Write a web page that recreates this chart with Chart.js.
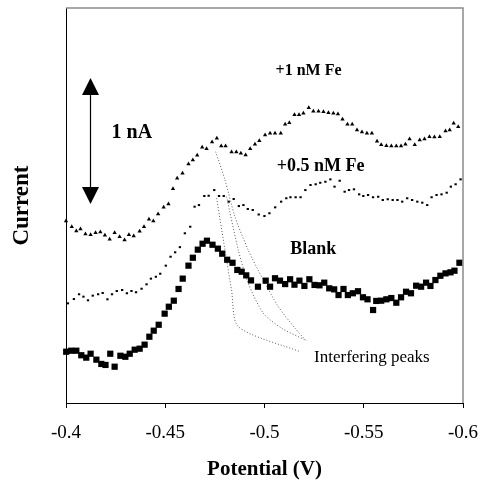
<!DOCTYPE html>
<html><head><meta charset="utf-8">
<script src="https://cdn.jsdelivr.net/npm/chart.js@4.4.1/dist/chart.umd.min.js"></script>
<style>html,body{margin:0;padding:0;background:#fff;}#wrap{width:484px;height:481px;}</style>
</head><body><div id="wrap"><canvas id="c" width="484" height="481"></canvas></div>
<script>
const SERIF = "'Liberation Serif','Times New Roman',serif";

// x axis tick values (potential, V)
const xTicks = [-0.4, -0.45, -0.5, -0.55, -0.6];

// +1 nM Fe (triangles)
const fe1X = [-0.4000,-0.4029,-0.4052,-0.4073,-0.4098,-0.4124,-0.4149,-0.4173,-0.4196,-0.4220,
-0.4245,-0.4270,-0.4295,-0.4317,-0.4341,-0.4371,-0.4393,-0.4418,-0.4440,-0.4464,
-0.4492,-0.4516,-0.4539,-0.4560,-0.4587,-0.4617,-0.4639,-0.4661,-0.4686,-0.4708,
-0.4736,-0.4760,-0.4782,-0.4804,-0.4834,-0.4858,-0.4881,-0.4905,-0.4928,-0.4952,-0.4974,
-0.5003,-0.5028,-0.5053,-0.5082,-0.5104,-0.5125,-0.5151,-0.5174,-0.5196,-0.5223,
-0.5246,-0.5272,-0.5297,-0.5322,-0.5347,-0.5370,-0.5393,-0.5418,-0.5442,-0.5466,
-0.5491,-0.5516,-0.5541,-0.5567,-0.5588,-0.5614,-0.5639,-0.5664,-0.5688,-0.5710,
-0.5731,-0.5757,-0.5782,-0.5806,-0.5831,-0.5856,-0.5883,-0.5912,-0.5933,-0.5953,-0.5976];
const fe1Y = [1.444,1.399,1.365,1.381,1.341,1.336,1.352,1.357,1.331,1.299,
1.352,1.320,1.294,1.336,1.325,1.363,1.399,1.458,1.444,1.500,
1.553,1.579,1.701,1.783,1.823,1.897,1.929,1.966,2.029,2.018,
2.071,2.101,2.040,2.040,1.992,1.992,1.982,1.968,2.018,2.053,2.082,
2.127,2.140,2.140,2.140,2.212,2.225,2.288,2.288,2.299,2.344,
2.315,2.315,2.312,2.304,2.299,2.294,2.252,2.212,2.212,2.167,
2.151,2.140,2.140,2.077,2.050,2.042,2.040,2.040,2.040,2.053,
2.095,2.050,2.087,2.095,2.113,2.111,2.113,2.159,2.167,2.220,2.193];

// +0.5 nM Fe (dashes)
const fe05X = [-0.4004,-0.4034,-0.4060,-0.4082,-0.4105,-0.4129,-0.4156,-0.4179,-0.4203,-0.4226,
-0.4250,-0.4277,-0.4301,-0.4324,-0.4347,-0.4375,-0.4400,-0.4422,-0.4447,-0.4469,
-0.4497,-0.4521,-0.4544,-0.4568,-0.4593,-0.4620,-0.4642,-0.4664,-0.4691,-0.4713,
-0.4741,-0.4765,-0.4789,-0.4814,-0.4839,-0.4865,-0.4888,-0.4910,-0.4935,-0.4965,
-0.4994,-0.5019,-0.5048,-0.5078,-0.5104,-0.5125,-0.5151,-0.5176,-0.5200,-0.5226,
-0.5252,-0.5275,-0.5301,-0.5326,-0.5347,-0.5373,-0.5398,-0.5420,-0.5445,-0.5471,
-0.5492,-0.5516,-0.5541,-0.5567,-0.5590,-0.5615,-0.5640,-0.5664,-0.5688,-0.5713,
-0.5738,-0.5764,-0.5789,-0.5814,-0.5836,-0.5861,-0.5886,-0.5912,-0.5933,-0.5957,-0.5982];
const fe05Y = [0.791,0.825,0.863,0.844,0.815,0.852,0.863,0.873,0.823,0.863,
0.889,0.897,0.871,0.889,0.879,0.907,0.942,0.987,1.002,1.026,
1.090,1.161,1.196,1.237,1.347,1.399,1.558,1.571,1.643,1.645,
1.690,1.643,1.643,1.598,1.619,1.563,1.571,1.540,1.532,1.496,
1.484,1.506,1.553,1.598,1.625,1.633,1.633,1.633,1.690,1.730,
1.736,1.748,1.756,1.775,1.717,1.764,1.677,1.690,1.696,1.656,
1.643,1.651,1.633,1.637,1.611,1.617,1.611,1.611,1.598,1.625,
1.611,1.598,1.590,1.571,1.633,1.651,1.656,1.669,1.717,1.736,1.775];

// Blank (squares)
const blankX = [-0.4001,-0.4026,-0.4052,-0.4077,-0.4102,-0.4124,-0.4153,-0.4178,-0.4199,-0.4223,
-0.4245,-0.4274,-0.4299,-0.4321,-0.4346,-0.4371,-0.4396,-0.4420,-0.4442,-0.4467,
-0.4497,-0.4518,-0.4543,-0.4567,-0.4588,-0.4617,-0.4639,-0.4664,-0.4688,-0.4710,
-0.4738,-0.4765,-0.4787,-0.4812,-0.4839,-0.4863,-0.4885,-0.4908,-0.4932,-0.4967,
-0.5006,-0.5028,-0.5053,-0.5078,-0.5104,-0.5129,-0.5151,-0.5176,-0.5201,-0.5226,
-0.5252,-0.5277,-0.5301,-0.5326,-0.5351,-0.5373,-0.5398,-0.5420,-0.5445,-0.5471,
-0.5496,-0.5519,-0.5547,-0.5563,-0.5588,-0.5614,-0.5639,-0.5664,-0.5688,-0.5713,
-0.5738,-0.5764,-0.5789,-0.5814,-0.5836,-0.5861,-0.5886,-0.5912,-0.5937,-0.5957,-0.5982];
const blankY = [0.407,0.415,0.415,0.379,0.360,0.391,0.344,0.310,0.302,0.391,
0.288,0.375,0.367,0.391,0.423,0.431,0.463,0.526,0.574,0.621,
0.709,0.764,0.812,0.905,0.987,1.090,1.153,1.217,1.264,1.288,
1.256,1.225,1.185,1.137,1.113,1.056,1.042,1.013,0.973,0.923,
0.971,0.923,0.990,0.971,0.944,0.982,0.939,0.971,0.929,0.982,
0.937,0.934,0.955,0.910,0.902,0.857,0.905,0.857,0.871,0.887,
0.839,0.823,0.738,0.810,0.812,0.823,0.833,0.796,0.839,0.883,
0.871,0.931,0.923,0.955,0.929,0.976,1.010,1.029,1.037,1.050,1.113];

// "Interfering peaks" leader lines
const leadOuterX = [-0.4754,-0.4801,-0.4851,-0.4918,-0.4994,-0.5070,-0.5154,-0.5213];
const leadOuterY = [1.994,1.770,1.479,1.214,0.976,0.764,0.593,0.487];
const leadMiddleX = [-0.4809,-0.4868,-0.4918,-0.4994,-0.5087,-0.5205];
const leadMiddleY = [1.637,1.214,0.950,0.712,0.593,0.500];
const leadInnerX = [-0.4759,-0.4801,-0.4834,-0.4868,-0.5179];
const leadInnerY = [1.625,1.214,0.897,0.606,0.407];

// 1 nA scale bar
const scaleBarX = -0.4122, scaleBarFrom = 1.579, scaleBarSpan = 1.0;

// text labels [text, x, y, bold, size]
const labels = [
  ['+1 nM Fe', -0.5222, 2.637, true, 16],
  ['+0.5 nM Fe', -0.5283, 1.881, true, 18],
  ['Blank', -0.5246, 1.217, true, 18],
  ['Interfering peaks', -0.5541, 0.357, false, 17],
  ['1 nA', -0.4332, 2.148, true, 20]
];

const pts = (xs, ys) => xs.map((x, i) => ({x, y: ys[i]}));

const annot = {
  id: 'annot',
  afterDatasetsDraw(chart) {
    const {ctx, chartArea: a, scales: {x, y}} = chart;
    ctx.save();
    ctx.strokeStyle = '#8a8a8a'; ctx.lineWidth = 1.5;
    ctx.beginPath(); ctx.moveTo(a.left, a.top); ctx.lineTo(a.right, a.top); ctx.lineTo(a.right, a.bottom); ctx.stroke();
    // scale bar arrow
    const ax = Math.round(x.getPixelForValue(scaleBarX)) + 0.5;
    const yb = y.getPixelForValue(scaleBarFrom), yt = y.getPixelForValue(scaleBarFrom + scaleBarSpan);
    const hw = 8.5, hh = 17;
    ctx.strokeStyle = '#000'; ctx.lineWidth = 1.2;
    ctx.beginPath(); ctx.moveTo(ax, yt + hh); ctx.lineTo(ax, yb - hh); ctx.stroke();
    ctx.fillStyle = '#000';
    ctx.beginPath(); ctx.moveTo(ax, yt); ctx.lineTo(ax - hw, yt + hh); ctx.lineTo(ax + hw, yt + hh); ctx.closePath(); ctx.fill();
    ctx.beginPath(); ctx.moveTo(ax, yb); ctx.lineTo(ax - hw, yb - hh); ctx.lineTo(ax + hw, yb - hh); ctx.closePath(); ctx.fill();
    // labels
    ctx.textAlign = 'center'; ctx.textBaseline = 'middle';
    labels.forEach(([t, vx, vy, b, s]) => {
      ctx.font = (b ? 'bold ' : '') + s + 'px ' + SERIF;
      ctx.fillText(t, x.getPixelForValue(vx), y.getPixelForValue(vy));
    });
    ctx.restore();
  }
};

const leader = (xs, ys) => ({
  data: pts(xs, ys), showLine: true, pointRadius: 0, borderColor: '#5a5a5a',
  borderWidth: 1, borderDash: [1, 2], tension: 0.25, order: 10
});

new Chart(document.getElementById('c'), {
  type: 'scatter',
  data: {
    datasets: [
      {label: '+1 nM Fe', data: pts(fe1X, fe1Y), pointStyle: 'triangle', pointRadius: 2.5,
       backgroundColor: '#000', borderWidth: 0, clip: false, order: 0},
      {label: '+0.5 nM Fe', data: pts(fe05X, fe05Y), pointStyle: 'dash', pointRadius: 2.3,
       borderColor: '#000', borderWidth: 2, clip: false, order: 0},
      {label: 'Blank', data: pts(blankX, blankY), pointStyle: 'rect', pointRadius: 4.4,
       backgroundColor: '#000', borderWidth: 0, clip: false, order: 0},
      leader(leadOuterX, leadOuterY),
      leader(leadMiddleX, leadMiddleY),
      leader(leadInnerX, leadInnerY)
    ]
  },
  options: {
    responsive: false, animation: false, devicePixelRatio: 1, events: [],
    layout: {padding: {top: 8, right: 21, left: 0, bottom: 0}},
    plugins: {legend: {display: false}, tooltip: {enabled: false}},
    scales: {
      x: {
        type: 'linear', min: -0.6, max: -0.4, reverse: true,
        afterBuildTicks: s => { s.ticks = xTicks.map(v => ({value: v})); },
        afterFit: s => { s.height = 78; s.paddingLeft = 0; s.paddingRight = 0; },
        ticks: {callback: v => String(v), color: '#000', font: {family: SERIF, size: 19},
                padding: 14, maxRotation: 0, autoSkip: false},
        grid: {display: true, drawOnChartArea: false, drawTicks: true, tickLength: 5, tickColor: '#000', tickWidth: 1},
        border: {display: true, color: '#000', width: 1},
        title: {display: true, text: 'Potential (V)', color: '#000',
                font: {family: SERIF, size: 21, weight: 'bold', lineHeight: 1.1}, padding: {top: 0, bottom: 0}}
      },
      y: {
        min: 0, max: 3.135,
        afterFit: s => { s.width = 66; s.paddingTop = 0; s.paddingBottom = 0; },
        ticks: {display: false},
        grid: {display: false},
        border: {display: true, color: '#000', width: 1},
        title: {display: true, text: 'Current', color: '#000', align: 'center',
                font: {family: SERIF, size: 23, weight: 'bold'}, padding: {top: 8, bottom: 0}}
      }
    }
  },
  plugins: [annot]
});
</script></body></html>
